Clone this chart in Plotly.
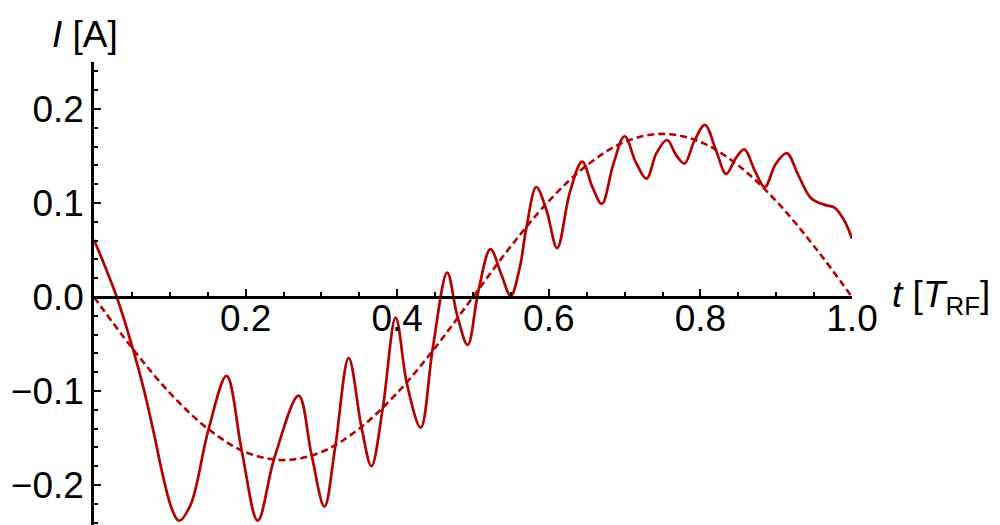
import plotly.graph_objects as go

# solid curve: current I(t) (extrema and crossings)
t_solid = [0.000, 0.030, 0.053, 0.066, 0.079, 0.092, 0.103, 0.112, 0.1275, 0.151,
           0.175, 0.195, 0.216, 0.238, 0.270, 0.287, 0.304, 0.318, 0.336, 0.353,
           0.366, 0.381, 0.398, 0.413, 0.431, 0.447, 0.466, 0.479, 0.493, 0.507,
           0.523, 0.5374, 0.5497, 0.5616, 0.5703, 0.5835, 0.597, 0.611, 0.628, 0.644,
           0.658, 0.670, 0.685, 0.700, 0.715, 0.729, 0.742, 0.756, 0.768, 0.779,
           0.792, 0.806, 0.821, 0.834, 0.847, 0.858, 0.872, 0.885, 0.899, 0.914,
           0.929, 0.946, 0.964, 0.977, 0.990, 1.000]
i_solid = [0.061, 0.000, -0.060, -0.099, -0.145, -0.194, -0.226, -0.238, -0.221, -0.141,
           -0.084, -0.164, -0.238, -0.171, -0.105, -0.168, -0.223, -0.161, -0.065, -0.139,
           -0.180, -0.118, -0.022, -0.093, -0.139, -0.054, 0.026, -0.019, -0.051, 0.006,
           0.051, 0.024, 0.001, 0.031, 0.073, 0.117, 0.092, 0.052, 0.112, 0.144,
           0.116, 0.099, 0.141, 0.171, 0.143, 0.126, 0.153, 0.167, 0.151, 0.142,
           0.166, 0.183, 0.155, 0.131, 0.148, 0.157, 0.134, 0.117, 0.141, 0.153,
           0.130, 0.105, 0.098, 0.095, 0.081, 0.062]

# dashed curve: fundamental component
t_dash = [0.00, 0.05, 0.10, 0.15, 0.20, 0.25, 0.30, 0.35, 0.40, 0.45, 0.50,
          0.55, 0.60, 0.65, 0.70, 0.75, 0.80, 0.85, 0.90, 0.95, 1.00]
i_dash = [0.000, -0.054, -0.102, -0.140, -0.165, -0.1735, -0.165, -0.140, -0.102, -0.054, 0.000,
          0.054, 0.102, 0.140, 0.165, 0.1735, 0.165, 0.140, 0.102, 0.054, 0.000]

x_ticks = [0.2, 0.4, 0.6, 0.8, 1.0]
x_labels = ["0.2", "0.4", "0.6", "0.8", "1.0"]
y_ticks = [-0.2, -0.1, 0.0, 0.1, 0.2]
y_labels = ["\u22120.2", "\u22120.1", "0.0", "0.1", "0.2"]

red = "#b30000"
font = "Liberation Sans, Arial, sans-serif"
fsize = 37

fig = go.Figure()
fig.add_trace(go.Scatter(x=t_dash, y=i_dash, mode="lines",
                         line=dict(color=red, width=2.6, dash="7px,4px", shape="spline")))
fig.add_trace(go.Scatter(x=t_solid, y=i_solid, mode="lines",
                         line=dict(color=red, width=2.7, shape="spline", smoothing=1.0)))

fig.update_layout(
    width=1000, height=525,
    margin=dict(l=86, r=156, t=54, b=1),
    plot_bgcolor="white", paper_bgcolor="white",
    showlegend=False,
    font=dict(family=font, size=fsize, color="black"),
    xaxis=dict(range=[0, 1], anchor="free", position=0.5,
               showline=True, linecolor="black", linewidth=2.5,
               showgrid=False, zeroline=False,
               tickvals=x_ticks, ticktext=x_labels, ticklabelstandoff=-12,
               ticks="inside", ticklen=7, tickwidth=2, tickcolor="black",
               minor=dict(tickvals=[0.05, 0.1, 0.15, 0.25, 0.3, 0.35, 0.45, 0.5, 0.55,
                                    0.65, 0.7, 0.75, 0.85, 0.9, 0.95],
                          ticks="inside", ticklen=4, tickwidth=2, tickcolor="black")),
    yaxis=dict(range=[-0.25, 0.25],
               showline=True, linecolor="black", linewidth=2.5,
               showgrid=False, zeroline=False,
               tickvals=y_ticks, ticktext=y_labels,
               ticks="inside", ticklen=7, tickwidth=2, tickcolor="black",
               minor=dict(dtick=0.02, tick0=0, ticks="inside", ticklen=4,
                          tickwidth=2, tickcolor="black")),
)

fig.add_annotation(text="<i>I</i> [A]", xref="paper", yref="paper",
                   x=-0.058, y=1.058, xanchor="left", yanchor="middle",
                   showarrow=False, font=dict(family=font, size=fsize))
fig.add_annotation(text="<i>t</i> [<i>T</i><sub>RF</sub>]", xref="paper", yref="y",
                   x=1.05, y=0, xanchor="left", yanchor="middle",
                   showarrow=False, font=dict(family=font, size=fsize))

fig.write_html("out.html")
